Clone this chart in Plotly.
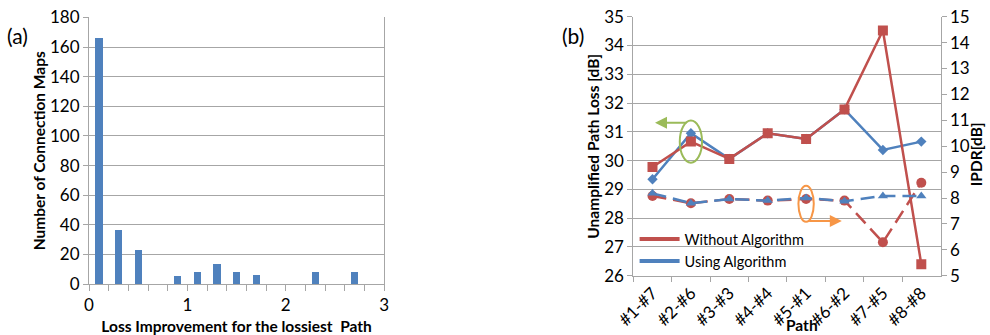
import plotly.graph_objects as go

# ---------------- data ----------------
# Panel (a): histogram of loss improvement
improvement_bins = [0.1, 0.3, 0.5, 0.9, 1.1, 1.3, 1.5, 1.7, 2.3, 2.7]
connection_map_counts = [166, 36, 23, 5, 8, 13, 8, 6, 8, 8]

# Panel (b)
paths = ["#1-#7", "#2-#6", "#3-#3", "#4-#4", "#5-#1", "#6-#2", "#7-#5", "#8-#8"]
loss_without = [29.78, 30.66, 30.06, 30.95, 30.75, 31.78, 34.52, 26.40]
loss_using = [29.35, 30.95, 30.06, 30.95, 30.75, 31.78, 30.37, 30.66]
ipdr_without = [8.08, 7.80, 7.96, 7.90, 7.96, 7.90, 6.29, 8.59]
ipdr_using = [8.18, 7.80, 7.96, 7.90, 8.00, 7.88, 8.08, 8.08]

BLUE = "#4F81BD"
RED = "#C0504D"
GREEN = "#9BBB59"
ORANGE = "#F79646"
GRID = "#A6A6A6"
FONT = "Lato"
DASH = "14px,7px"

fig = go.Figure()

# ---------------- panel (a) ----------------
fig.add_trace(go.Bar(
    x=improvement_bins, y=connection_map_counts, width=0.075,
    marker=dict(color=BLUE, line=dict(width=0)),
    xaxis="x", yaxis="y", showlegend=False,
))

# ---------------- panel (b) ----------------
fig.add_trace(go.Scatter(
    x=paths, y=loss_using, mode="lines+markers", xaxis="x2", yaxis="y2",
    line=dict(color=BLUE, width=2.5),
    marker=dict(symbol="diamond", size=8, color=BLUE), showlegend=False,
))
fig.add_trace(go.Scatter(
    x=paths, y=loss_without, mode="lines+markers", xaxis="x2", yaxis="y2",
    line=dict(color=RED, width=2.5),
    marker=dict(symbol="square", size=10, color=RED), showlegend=False,
))
fig.add_trace(go.Scatter(
    x=paths, y=ipdr_without, mode="lines+markers", xaxis="x2", yaxis="y3",
    line=dict(color=RED, width=2.5, dash=DASH),
    marker=dict(symbol="circle", size=10, color=RED), showlegend=False,
))
fig.add_trace(go.Scatter(
    x=paths, y=ipdr_using, mode="lines+markers", xaxis="x2", yaxis="y3",
    line=dict(color=BLUE, width=2.5, dash=DASH),
    marker=dict(symbol="triangle-up", size=9, color=BLUE), showlegend=False,
))
# legend entries (lines only, as in the reference)
fig.add_trace(go.Scatter(x=[None], y=[None], mode="lines", name="Without Algorithm",
                         line=dict(color=RED, width=4), xaxis="x2", yaxis="y2"))
fig.add_trace(go.Scatter(x=[None], y=[None], mode="lines", name="Using Algorithm",
                         line=dict(color=BLUE, width=4), xaxis="x2", yaxis="y2"))

tickfont = dict(family=FONT, size=17, color="#000")
titlefont = dict(family=FONT, size=15.5, color="#000", weight="bold")

fig.update_layout(
    width=990, height=335,
    margin=dict(l=0, r=0, t=0, b=0, autoexpand=False),
    paper_bgcolor="white", plot_bgcolor="white",
    font=dict(family=FONT, color="#000"),
    bargap=0,
    xaxis=dict(
        domain=[0.0899, 0.388], range=[0, 3], dtick=1, tick0=0, automargin=False,
        showgrid=False, zeroline=False, showline=True, linecolor=GRID, linewidth=1,
        ticks="outside", ticklen=6, tickcolor=GRID,
        minor=dict(dtick=0.2, ticks="outside", ticklen=6, tickcolor=GRID, showgrid=False),
        tickfont=tickfont,
        title=dict(text="Loss Improvement for the lossiest  Path", font=titlefont, standoff=6),
        anchor="y",
    ),
    yaxis=dict(
        domain=[0.152, 0.948], range=[0, 180], dtick=20, automargin=False,
        showgrid=True, gridcolor=GRID, gridwidth=1, zeroline=False,
        showline=True, linecolor=GRID, mirror=True,
        ticks="outside", ticklen=5, tickcolor=GRID, tickfont=tickfont,
        title=dict(text="Number of Connection Maps", font=titlefont, standoff=0),
        anchor="x",
    ),
    xaxis2=dict(
        domain=[0.6397, 0.950], type="category", categoryorder="array", categoryarray=paths,
        range=[-0.5, 7.5], showgrid=False, zeroline=False, automargin=False,
        showline=True, linecolor=GRID, tickson="boundaries",
        ticks="outside", ticklen=5, tickcolor=GRID, tickangle=-45, tickfont=tickfont,
        anchor="y2",
    ),
    yaxis2=dict(
        domain=[0.177, 0.950], range=[26, 35], dtick=1, automargin=False,
        showgrid=True, gridcolor=GRID, zeroline=False,
        showline=True, linecolor=GRID,
        ticks="outside", ticklen=5, tickcolor=GRID, tickfont=tickfont,
        title=dict(text="Unamplified Path Loss [dB]", font=titlefont, standoff=0),
        anchor="x2",
    ),
    yaxis3=dict(
        overlaying="y2", side="right", range=[5, 15], dtick=1, automargin=False,
        showgrid=False, zeroline=False, showline=True, linecolor=GRID,
        ticks="outside", ticklen=5, tickcolor=GRID, tickfont=tickfont,
        anchor="x2",
    ),
    legend=dict(
        x=0.641, y=0.334, xanchor="left", yanchor="top",
        bgcolor="rgba(0,0,0,0)", font=dict(family=FONT, size=14.5, color="#000"),
        traceorder="normal", itemwidth=40, tracegroupgap=0,
    ),
    annotations=[
        dict(text="(a)", x=0.005, y=0.895, xref="paper", yref="paper", showarrow=False,
             font=dict(family=FONT, size=21), xanchor="left", yanchor="middle"),
        dict(text="(b)", x=0.5655, y=0.895, xref="paper", yref="paper", showarrow=False,
             font=dict(family=FONT, size=21), xanchor="left", yanchor="middle"),
        dict(text="Path", x=0.81, y=0.03, xref="paper", yref="paper", showarrow=False,
             font=titlefont, xanchor="center", yanchor="middle"),
        dict(text="IPDR[dB]", x=0.986, y=0.54, xref="paper", yref="paper", showarrow=False,
             font=titlefont, textangle=-90, xanchor="center", yanchor="middle"),
        # green arrow pointing left (left axis)
        dict(x=0.065, y=31.32, ax=0.92, ay=31.32, xref="x2", yref="y2",
             axref="x2", ayref="y2", showarrow=True, arrowhead=2, arrowsize=1.2,
             arrowwidth=2, arrowcolor=GREEN, text=""),
        # orange arrow pointing right (right axis)
        dict(x=4.93, y=7.11, ax=4.04, ay=7.11, xref="x2", yref="y3",
             axref="x2", ayref="y3", showarrow=True, arrowhead=2, arrowsize=1.2,
             arrowwidth=2, arrowcolor=ORANGE, text=""),
    ],
    shapes=[
        dict(type="circle", xref="x2", yref="y2", x0=0.71, x1=1.29, y0=29.93, y1=31.39,
             line=dict(color=GREEN, width=2)),
        dict(type="circle", xref="x2", yref="y3", x0=3.8, x1=4.2, y0=7.08, y1=8.47,
             line=dict(color=ORANGE, width=2)),
    ],
)

fig.write_html(
    "out.html",
    config={"displayModeBar": False},
    post_script="document.body.style.margin='0';document.body.style.overflow='hidden';",
)
